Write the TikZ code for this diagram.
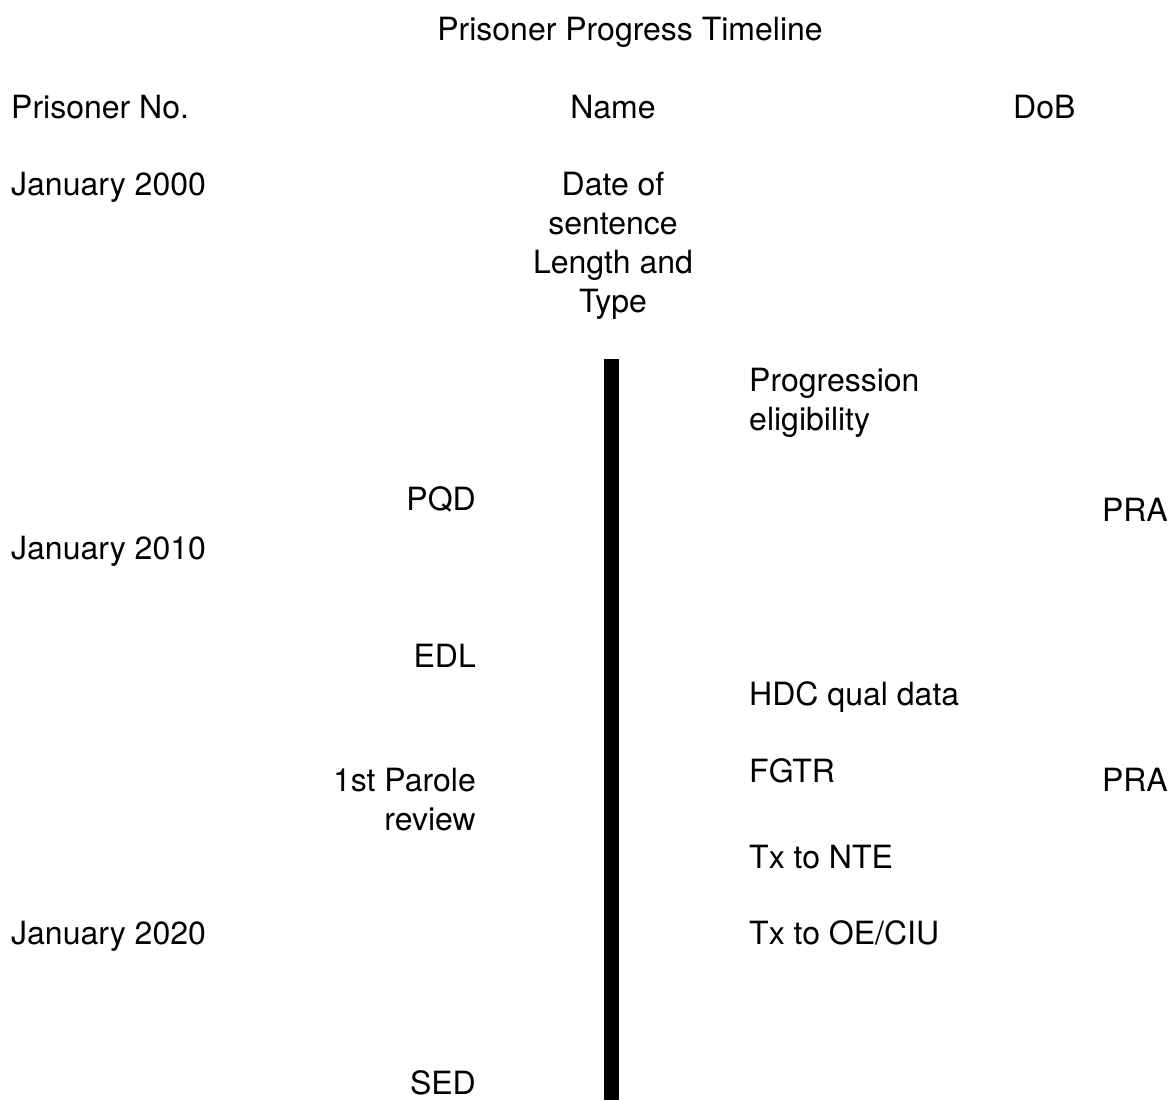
\documentclass[tikz,border=0pt]{standalone}
\usepackage{fontspec}
\setmainfont{TeX Gyre Heros}
\usepackage{tikz}

\begin{document}
\begin{tikzpicture}%
	[x=1pt, y=-1pt,
	txt/.style={inner sep=0pt, font=\fontsize{32}{39}\selectfont},
	lcol/.style={txt, anchor=base west, align=left},
	rcol/.style={txt, anchor=base east, align=right},
	ccol/.style={txt, anchor=base, align=center},
	bar/.style={fill=black}]
%
\useasboundingbox (0,0) rectangle (1174,1100);
%%
%% Heading
%%
\node[ccol] (title) at (630,40) {Prisoner Progress Timeline};
\node[lcol] (number) at (11,118) {Prisoner No.};
\node[ccol] (name) at (613,118) {Name};
\node[lcol] (dob) at (1013,118) {DoB};
%%
%% Years
%%
\node[lcol] (y2000) at (11,195) {January 2000};
\node[lcol] (y2010) at (11,559) {January 2010};
\node[lcol] (y2020) at (11,944) {January 2020};
%%
%% Sentence (base = last line)
%%
\node[ccol] (sentence) at (613,312) {Date of\\ sentence\\ Length and\\ Type};
%%
%% The line
%%
\fill[bar] (604,359) rectangle (619,1100);
%%
%% Left of the line
%%
\node[rcol] (pqd) at (476,510) {PQD};
\node[rcol] (edl) at (476,667) {EDL};
\node[rcol] (parole) at (476,830) {1st Parole\\ review};
\node[rcol] (sed) at (476,1094) {SED};
%%
%% Right of the line
%%
\node[lcol] (elig) at (749,430) {Progression\\ eligibility};
\node[lcol] (hdc) at (749,705) {HDC qual data};
\node[lcol] (fgtr) at (749,782) {FGTR};
\node[lcol] (nte) at (749,868) {Tx to NTE};
\node[lcol] (oe) at (749,944) {Tx to OE/CIU};
\node[rcol] (pra1) at (1168,521) {PRA};
\node[rcol] (pra2) at (1168,791) {PRA};
%%
\end{tikzpicture}
\end{document}
